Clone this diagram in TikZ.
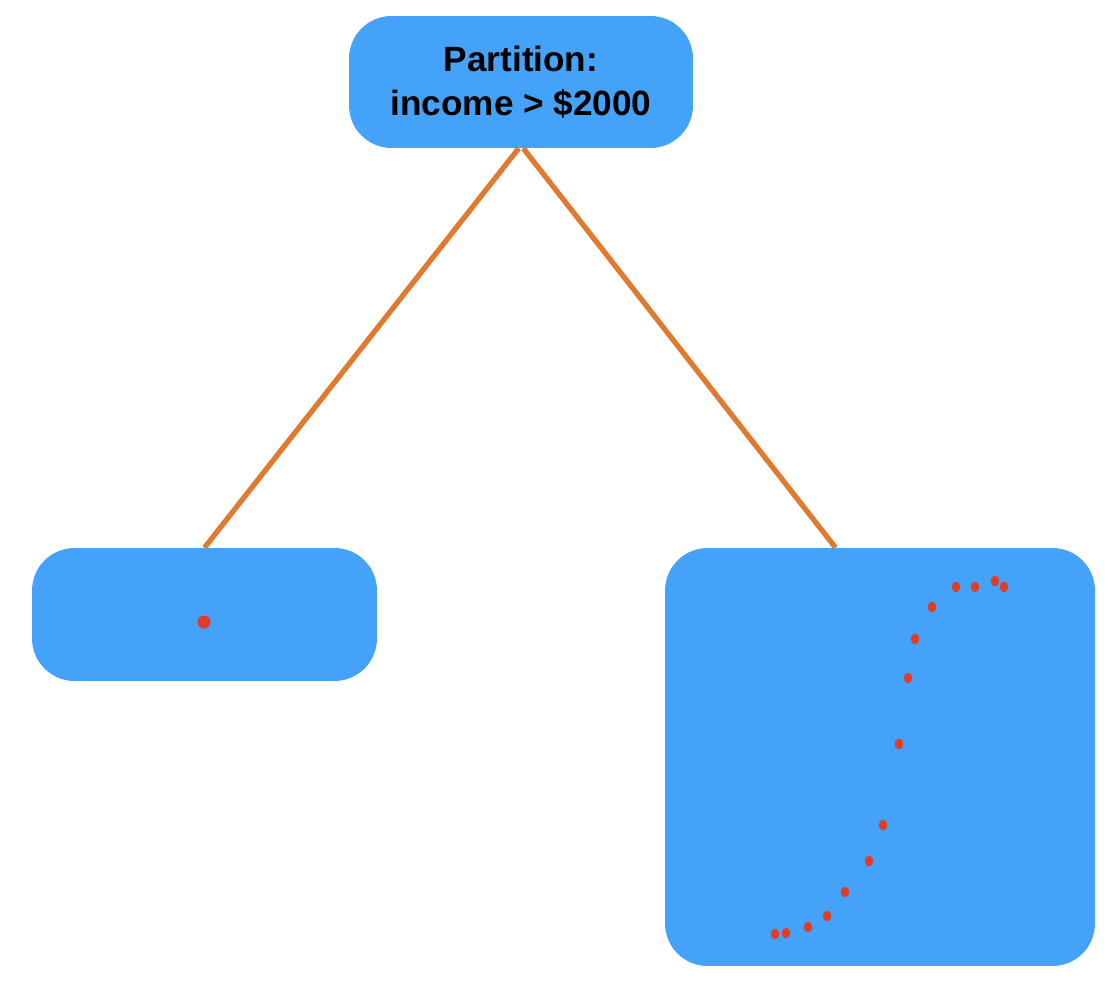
\documentclass[tikz,border=0pt]{standalone}
\usepackage{fontspec}
\setmainfont{Liberation Sans}
\usepackage{tikz}
\definecolor{boxblue}{HTML}{44A2F8}
\definecolor{linkorange}{HTML}{E07A2E}
\definecolor{dotred}{HTML}{E03C28}
\begin{document}
\begin{tikzpicture}[x=0.02cm, y=0.02cm]
\tikzstyle{every node}+=[inner sep=0pt]
\tikzstyle{leafbox}=[fill=boxblue, rounded corners=0.85cm]
\tikzstyle{link}=[linkorange, line width=3pt]
\useasboundingbox (0,0) rectangle (1114,-986);
\node [leafbox, minimum width=6.88cm, minimum height=2.64cm, align=center,
  font=\fontsize{20}{25.5}\selectfont\bfseries] (split) at (521,-82) {Partition:\\income > \$2000};
\node [leafbox, minimum width=6.9cm, minimum height=2.66cm] (low) at (204.5,-614.5) {};
\node [leafbox, minimum width=8.6cm, minimum height=8.36cm] (high) at (880,-757) {};
\draw [link] (split.-92.6) -- (low.north);
\draw [link] (split.-88) -- (high.102);
\fill [dotred] (204,-622) circle (6.5);
\foreach \x/\y in {775/934, 786/933, 808/927, 827/916, 845/892, 869/861, 883/825,
  899/744, 908/678, 915/639, 932/607, 956/587, 975/587, 995/581, 1004/587}
  \fill [dotred] (\x,-\y) ellipse (4.3 and 5.3);
\end{tikzpicture}
\end{document}
